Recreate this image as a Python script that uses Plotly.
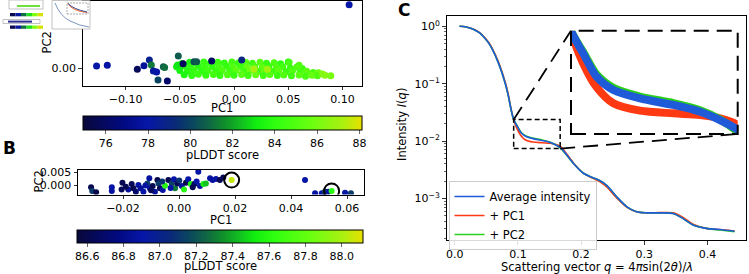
import plotly.graph_objects as go

W, H = 749, 274
FONT = "DejaVu Sans"

# ---------------- Panel A : PCA of structures coloured by pLDDT ----------------
a_pc1 = [
    -0.048, -0.041, -0.035, -0.028, -0.022, -0.015, -0.009, -0.002, 0.004, 0.011, 0.017, 0.024, 0.030, 0.037, 0.043, 0.050,
    -0.053, -0.046, -0.040, -0.033, -0.027, -0.020, -0.014, -0.007, -0.001, 0.006, 0.012, 0.019, 0.026, 0.032, 0.039, 0.045, 0.052, 0.058, 0.063,
    -0.050, -0.043, -0.037, -0.030, -0.024, -0.017, -0.011, -0.004, 0.002, 0.009, 0.015, 0.022, 0.028, 0.035, 0.041, 0.048, 0.054, 0.061, 0.067, 0.073, 0.078,
    -0.046, -0.039, -0.033, -0.026, -0.019, -0.013, -0.006, 0.000, 0.007, 0.013, 0.020, 0.027, 0.033, 0.040, 0.046, 0.053, 0.060, 0.066, 0.072, 0.077, 0.084,
    0.0185, 0.0308, 0.0816, 0.0893, 0.0508, 0.060,
    0.1062, -0.1268, -0.1169, -0.0892, -0.0831, -0.0781, -0.0763, -0.0744, -0.0714, -0.0701, -0.0652, -0.0640, -0.0615,
    -0.0514, -0.0520, -0.0470, -0.0369, -0.0345, -0.0206, 0.0071,
]
a_pc2 = [
    0.0065, 0.0080, 0.0070, 0.0085, 0.0068, 0.0080, 0.0072, 0.0083, 0.0070, 0.0078, 0.0066, 0.0080, 0.0068, 0.0075, 0.0062, 0.0085,
    0.0020, 0.0030, 0.0015, 0.0028, 0.0012, 0.0025, 0.0010, 0.0028, 0.0012, 0.0025, 0.0008, 0.0022, 0.0010, 0.0026, 0.0008, 0.0020, 0.0005, 0.0018, -0.0002,
    -0.0030, -0.0040, -0.0025, -0.0038, -0.0028, -0.0042, -0.0030, -0.0040, -0.0026, -0.0038, -0.0030, -0.0042, -0.0028, -0.0040, -0.0032, -0.0045, -0.0030, -0.0048, -0.0040, -0.0055, -0.0060,
    -0.0085, -0.0095, -0.0080, -0.0092, -0.0083, -0.0096, -0.0085, -0.0094, -0.0082, -0.0095, -0.0086, -0.0097, -0.0084, -0.0095, -0.0088, -0.0100, -0.0090, -0.0105, -0.0092, -0.0100, -0.0094,
    -0.0009, -0.0013, -0.0076, -0.0099, 0.0080, 0.0040,
    0.0848, 0.0031, 0.0040, -0.0013, 0.0035, 0.0110, 0.0044, -0.0036, -0.0049, -0.0156, 0.0022, 0.0010, -0.0169,
    0.0164, 0.0044, 0.0060, 0.0088, 0.0088, 0.0097, 0.0110,
]
a_plddt = [
    83.0, 83.4, 84.0, 84.2, 84.0, 84.4, 84.1, 84.6, 84.3, 85.0, 84.5, 85.2, 84.2, 84.8, 84.0, 83.8,
    83.2, 83.6, 84.0, 83.8, 84.3, 84.1, 84.6, 84.2, 85.0, 84.4, 85.6, 84.8, 85.4, 84.3, 85.0, 84.6, 84.2, 84.9, 84.4,
    83.3, 83.8, 84.2, 84.0, 84.5, 84.2, 84.8, 84.4, 85.3, 84.6, 85.8, 84.7, 85.5, 84.5, 85.2, 84.4, 85.0, 84.6, 85.3, 84.8, 85.8,
    83.5, 84.0, 84.3, 84.1, 84.6, 84.2, 84.9, 84.3, 85.2, 84.5, 85.6, 84.6, 85.1, 84.4, 85.0, 84.5, 85.2, 84.7, 85.6, 84.9, 86.4,
    87.2, 87.0, 86.3, 86.0, 84.6, 85.0,
    78.0, 78.0, 77.8, 75.8, 77.5, 78.6, 81.2, 78.2, 77.9, 80.0, 80.6, 81.0, 76.2,
    80.6, 83.0, 75.8, 80.3, 80.6, 76.0, 79.0,
]
a_cbar_ticks = [76, 78, 80, 82, 84, 86, 88]
a_cmin, a_cmax = 74.91, 88.11

# ---------------- Panel B ----------------
b_pc1 = [
    -0.0314, -0.0310, -0.0296, -0.0240, -0.0240, -0.0202, -0.0205, -0.0181, -0.0169, -0.0163,
    -0.0154, -0.0145, -0.0137, -0.0127, -0.0113, -0.0106, -0.0104, -0.0094, -0.0086, -0.0077,
    -0.0073, -0.0068, -0.0058, -0.0050, -0.0038, -0.0026, -0.0018, -0.0014, -0.0006, 0.0001,
    0.0010, 0.0018, 0.0025, 0.0033, 0.0042, 0.0049, 0.0055, 0.0063, 0.0069, 0.0075,
    0.0087, 0.0096, 0.0111, 0.0120, 0.0132, 0.0146, 0.0158, 0.0188,
    0.0450, 0.0486, 0.0510, 0.0521, 0.0533, 0.0545, 0.0593, 0.0614,
    -0.0190, -0.0120, -0.0030, -0.0100, -0.0060,
]
b_pc2 = [
    -0.0007, -0.0021, -0.0026, -0.0007, -0.0021, 0.0011, -0.0015, -0.0015, 0.0006, -0.0011,
    -0.0024, 0.0002, -0.0011, -0.0024, 0.0008, 0.0028, -0.0011, -0.0002, -0.0024, 0.0021,
    0.0008, -0.0011, -0.0017, -0.0001, 0.0021, 0.0008, 0.0024, -0.0011, 0.0008, 0.0019,
    -0.0002, -0.0015, 0.0011, 0.0024, 0.0006, -0.0007, 0.0006, 0.0015, 0.0053, -0.0002,
    0.0006, 0.0008, 0.0028, 0.0021, 0.0025, 0.0021, 0.0031, 0.0021,
    0.0021, -0.0030, -0.0030, -0.0024, -0.0024, -0.0021, -0.0028, -0.0030,
    -0.0005, 0.0000, -0.0010, -0.0018, 0.0015,
]
b_plddt = [
    86.62, 87.12, 86.60, 86.90, 86.88, 86.62, 86.65, 86.86, 86.64, 86.60,
    86.70, 86.90, 86.85, 86.92, 87.15, 86.88, 86.90, 86.63, 86.87, 86.60,
    87.12, 86.65, 86.90, 87.60, 86.62, 87.15, 86.90, 87.30, 86.64, 87.10,
    86.88, 87.60, 86.60, 86.90, 87.55, 86.62, 86.65, 86.90, 86.92, 86.88,
    87.55, 87.45, 86.90, 86.88, 86.90, 86.62, 86.64, 88.05,
    86.90, 86.88, 86.90, 87.15, 86.88, 87.60, 86.90, 87.12,
    86.62, 86.88, 86.90, 86.64, 87.10,
]
b_highlight = [47, 53]
b_cbar_ticks = [86.6, 86.8, 87.0, 87.2, 87.4, 87.6, 87.8, 88.0]
b_cmin, b_cmax = 86.547, 88.119

# ---------------- Panel C : scattering intensities (log10 I) ----------------
q = [0.0076, 0.018, 0.030, 0.040, 0.046, 0.053, 0.059, 0.0696, 0.0801, 0.0850, 0.0890,
     0.0933, 0.0987, 0.1046, 0.1120, 0.1238, 0.1385, 0.1503, 0.1591, 0.1669,
     0.1722, 0.1879, 0.2037, 0.2168, 0.2300, 0.2405, 0.2563, 0.2720, 0.2878, 0.3036,
     0.3246, 0.3457, 0.3615, 0.3772, 0.3982, 0.4193, 0.4429]
avg_log10 = [0.0, -0.012, -0.055, -0.12, -0.186, -0.28, -0.39, -0.65, -1.0, -1.22, -1.44,
             -1.626, -1.737, -1.851, -1.916, -1.957, -1.989, -2.022, -2.063, -2.111,
             -2.17, -2.39, -2.56, -2.63, -2.69, -2.77, -2.97, -3.14, -3.23, -3.25,
             -3.25, -3.26, -3.35, -3.46, -3.52, -3.54, -3.57]
pc1_log10 = [0.0, -0.012, -0.053, -0.115, -0.18, -0.27, -0.375, -0.63, -0.98, -1.20, -1.43,
             -1.631, -1.786, -1.902, -1.981, -2.017, -2.030, -2.038, -2.054, -2.087,
             -2.15, -2.38, -2.56, -2.64, -2.71, -2.80, -2.99, -3.15, -3.23, -3.25,
             -3.245, -3.25, -3.33, -3.45, -3.52, -3.54, -3.565]
pc2_log10 = [0.0, -0.012, -0.055, -0.12, -0.186, -0.28, -0.39, -0.65, -1.0, -1.22, -1.44,
             -1.626, -1.730, -1.840, -1.905, -1.948, -1.980, -2.015, -2.060, -2.120,
             -2.18, -2.39, -2.56, -2.63, -2.69, -2.77, -2.97, -3.14, -3.23, -3.25,
             -3.25, -3.26, -3.35, -3.46, -3.52, -3.55, -3.58]
zoom_q = [0.0933, 0.1669]
zoom_log10 = [-2.131, -1.626]
c_xticks = [0.0, 0.1, 0.2, 0.3, 0.4]
c_yticks = [1e-3, 1e-2, 1e-1, 1.0]
c_yticktext = ["10<sup>\u22123</sup>", "10<sup>\u22122</sup>", "10<sup>\u22121</sup>", "10<sup>0</sup>"]

C_BLUE, C_RED, C_GREEN = "#1f5bd8", "#ff3a12", "#2ccf1c"

cscale = [[0.0, "#08083a"], [0.15, "#020a84"], [0.23, "#0616a8"], [0.33, "#0a2a78"],
          [0.39, "#0a4560"], [0.45, "#106545"], [0.51, "#10902a"], [0.57, "#12c020"],
          [0.62, "#10ee10"], [0.69, "#30ff10"], [0.81, "#66ff10"], [0.93, "#aaf010"],
          [1.0, "#e8e000"]]

TS = 11  # tick font size


def px(x):
    return x / W


def py(y):
    return 1 - y / H


def axstyle(**kw):
    d = dict(showline=True, linecolor="black", linewidth=1, mirror=True, ticks="outside",
             ticklen=3.5, tickwidth=0.8, tickcolor="black", showgrid=False, zeroline=False,
             automargin=False, tickfont=dict(family=FONT, size=TS, color="black"))
    d.update(kw)
    return d


tfont = dict(family=FONT, size=TS, color="black")

fig = go.Figure()

# Panel A scatter
fig.add_trace(go.Scatter(
    x=a_pc1, y=a_pc2, mode="markers", xaxis="x", yaxis="y", showlegend=False,
    marker=dict(size=7, color=a_plddt, colorscale=cscale, cmin=a_cmin, cmax=a_cmax,
                line=dict(width=0), showscale=True,
                colorbar=dict(orientation="h", x=px((82.7 + 361.7) / 2), xanchor="center",
                              y=py(116), yanchor="top", len=279, lenmode="pixels",
                              thickness=14, thicknessmode="pixels", xpad=0, ypad=0,
                              outlinewidth=1, outlinecolor="black", ticks="outside",
                              ticklen=3.5, tickwidth=0.8, tickvals=a_cbar_ticks,
                              tickfont=tfont))))

# Panel B scatter
fig.add_trace(go.Scatter(
    x=b_pc1, y=b_pc2, mode="markers", xaxis="x2", yaxis="y2", showlegend=False,
    marker=dict(size=6, color=b_plddt, colorscale=cscale, cmin=b_cmin, cmax=b_cmax,
                line=dict(width=0), showscale=True,
                colorbar=dict(orientation="h", x=px((77.7 + 363.3) / 2), xanchor="center",
                              y=py(230), yanchor="top", len=285.6, lenmode="pixels",
                              thickness=13, thicknessmode="pixels", xpad=0, ypad=0,
                              outlinewidth=1, outlinecolor="black", ticks="outside",
                              ticklen=3.5, tickwidth=0.8, tickvals=b_cbar_ticks,
                              tickformat=".1f", tickfont=tfont))))
fig.add_trace(go.Scatter(
    x=[b_pc1[i] for i in b_highlight], y=[b_pc2[i] for i in b_highlight],
    mode="markers", xaxis="x2", yaxis="y2", showlegend=False,
    marker=dict(symbol="circle-open", size=15, color="black", line=dict(width=2))))

# Panel C main + inset
series = [("+ PC1", pc1_log10, C_RED, 2), ("+ PC2", pc2_log10, C_GREEN, 3),
          ("Average intensity", avg_log10, C_BLUE, 1)]
for name, vals, col, rank in series:
    yv = [10 ** v for v in vals]
    fig.add_trace(go.Scatter(x=q, y=yv, mode="lines", name=name, legendrank=rank,
                             xaxis="x3", yaxis="y3",
                             line=dict(color=col, width=1.6, shape="spline", smoothing=0.8)))
for name, vals, col, rank in series:
    yv = [10 ** v for v in vals]
    fig.add_trace(go.Scatter(x=q, y=yv, mode="lines", showlegend=False,
                             xaxis="x4", yaxis="y4",
                             line=dict(color=col, width=8, shape="spline", smoothing=0.8)))

xdA = [px(82.7), px(361.7)]
ydA = [py(85.7), py(0.5)]
xdB = [px(78), px(363.5)]
ydB = [py(194.5), py(170)]
xdC = [px(446.5), px(746)]
ydC = [py(240), py(16)]
xrC = [-0.013, 0.461]
yrC = [-3.723, 0.179]
xdI = [px(571), px(737.7)]
ydI = [py(134), py(30.7)]

minor_vals = [m * 10 ** e for e in (-4, -3, -2, -1, 0) for m in range(2, 10)]

fig.update_layout(
    width=W, height=H, margin=dict(l=0, r=0, t=0, b=0, pad=0, autoexpand=False),
    paper_bgcolor="white", plot_bgcolor="white",
    font=dict(family=FONT, size=11.5, color="black"),
    xaxis=axstyle(domain=xdA, range=[-0.1396, 0.1178], anchor="y",
                  tickvals=[-0.10, -0.05, 0.0, 0.05, 0.10], tickformat=".2f"),
    yaxis=axstyle(domain=ydA, range=[-0.0232, 0.0904], anchor="x",
                  tickvals=[0.0], tickformat=".2f"),
    xaxis2=axstyle(domain=xdB, range=[-0.03607, 0.06589], anchor="y2",
                   tickvals=[-0.02, 0.0, 0.02, 0.04, 0.06], tickformat=".2f"),
    yaxis2=axstyle(domain=ydB, range=[-0.00346, 0.00596], anchor="x2",
                   tickvals=[0.0, 0.005], tickformat=".3f"),
    xaxis3=axstyle(domain=xdC, range=xrC, anchor="y3", tickvals=c_xticks, tickformat=".1f"),
    yaxis3=axstyle(domain=ydC, range=yrC, anchor="x3", type="log",
                   tickvals=c_yticks, ticktext=c_yticktext,
                   minor=dict(ticks="outside", ticklen=2, tickwidth=0.6, tickcolor="black",
                              tickvals=minor_vals, showgrid=False)),
    xaxis4=dict(domain=xdI, range=zoom_q, anchor="y4", visible=False),
    yaxis4=dict(domain=ydI, range=zoom_log10, anchor="x4", type="log", visible=False),
    legend=dict(x=px(448.5), y=py(181), xanchor="left", yanchor="top",
                bgcolor="rgba(255,255,255,0.85)", bordercolor="#cccccc", borderwidth=1,
                font=dict(family=FONT, size=11.5, color="black"), itemwidth=30,
                tracegroupgap=0),
)

# inset indicator shapes
def c_paper(qv, lv):
    xp = xdC[0] + (qv - xrC[0]) / (xrC[1] - xrC[0]) * (xdC[1] - xdC[0])
    yp = ydC[0] + (lv - yrC[0]) / (yrC[1] - yrC[0]) * (ydC[1] - ydC[0])
    return xp, yp

shapes = []
shapes.append(dict(type="rect", xref="x3", yref="y3", x0=zoom_q[0], x1=zoom_q[1],
                   y0=10 ** zoom_log10[0], y1=10 ** zoom_log10[1],
                   line=dict(color="black", width=1.5, dash="5px,3px")))
shapes.append(dict(type="rect", xref="paper", yref="paper", x0=xdI[0], x1=xdI[1],
                   y0=ydI[0], y1=ydI[1], line=dict(color="black", width=2, dash="15px,8px")))
tl = c_paper(zoom_q[0], zoom_log10[1])
br = c_paper(zoom_q[1], zoom_log10[0])
shapes.append(dict(type="line", xref="paper", yref="paper", x0=tl[0], y0=tl[1],
                   x1=xdI[0], y1=ydI[1], line=dict(color="black", width=1.8, dash="15px,8px")))
shapes.append(dict(type="line", xref="paper", yref="paper", x0=br[0], y0=br[1],
                   x1=xdI[1], y1=ydI[0], line=dict(color="black", width=1.8, dash="15px,8px")))

# small thumbnail in the top-left corner (decorative)
def prect(x0, y0, x1, y1, fill, line=None, lw=0.6):
    return dict(type="rect", xref="paper", yref="paper", x0=px(x0), x1=px(x1),
                y0=py(y1), y1=py(y0), fillcolor=fill,
                line=dict(color=line or fill, width=lw if line else 0), layer="above")

shapes += [prect(9, 0, 43, 9, "white", "#9a9a9a"),
           prect(17, 5, 40, 7, "#6fe040"),
           prect(3, 19.5, 40, 23.5, "white", "#9a9a9a"),
           prect(8, 20.6, 32, 22.6, "#2a2a90"),
           prect(52, 0.5, 90, 29, "white", "#9a9a9a")]
bar_cols = ["#0a0a50", "#0a1aa0", "#107040", "#20e020", "#80ff10", "#d8e000"]
for y0 in (13, 25.5):
    for i, c in enumerate(bar_cols):
        shapes.append(prect(10 + i * 5.5, y0, 10 + (i + 1) * 5.5, y0 + 3.3, c))
shapes.append(dict(type="path", xref="paper", yref="paper", layer="above",
                   path="M %f,%f Q %f,%f %f,%f T %f,%f" % (px(55), py(3), px(60), py(16), px(70), py(21),
                                                          px(89), py(27)),
                   line=dict(color="#5a7ab0", width=0.8)))
shapes.append(dict(type="rect", xref="paper", yref="paper", layer="above",
                   x0=px(67), x1=px(88), y0=py(14), y1=py(3),
                   line=dict(color="#555555", width=0.5, dash="2px,1px")))
shapes.append(dict(type="path", xref="paper", yref="paper", layer="above",
                   path="M %f,%f Q %f,%f %f,%f" % (px(68), py(3.5), px(72), py(11), px(87), py(12.5)),
                   line=dict(color="#f06a30", width=1.0)))
shapes.append(dict(type="path", xref="paper", yref="paper", layer="above",
                   path="M %f,%f Q %f,%f %f,%f" % (px(68), py(3.5), px(73), py(9), px(87), py(12)),
                   line=dict(color="#3a4a8a", width=1.0)))
fig.update_layout(shapes=shapes)

ann = []
def label(text, x, y, size=11.5, angle=0, bold=False):
    ann.append(dict(text="<b>%s</b>" % text if bold else text, x=px(x), y=py(y), xref="paper",
                    yref="paper", showarrow=False, textangle=angle, xanchor="center",
                    yanchor="middle", font=dict(family=FONT, size=size, color="black")))

label("PC1", 222.2, 108)
label("PC2", 46.5, 43, angle=-90)
label("pLDDT score", 222.2, 155)
label("B", 9, 148, size=17, bold=True)
label("PC2", 38.5, 182, angle=-90)
label("PC1", 220.7, 220)
label("pLDDT score", 220.5, 265.5)
label("C", 404, 10, size=17, bold=True)
label("Intensity <i>I</i>(<i>q</i>)", 402, 125, angle=-90)
label("Scattering vector <i>q</i> = 4<i>\u03c0</i>sin(2<i>\u03b8</i>)/<i>\u03bb</i>", 597, 266.5)
fig.update_layout(annotations=ann)

fig.write_html("out.html", config={"displayModeBar": False, "staticPlot": True},
               post_script="document.body.style.margin='0';document.body.style.overflow='hidden';")
